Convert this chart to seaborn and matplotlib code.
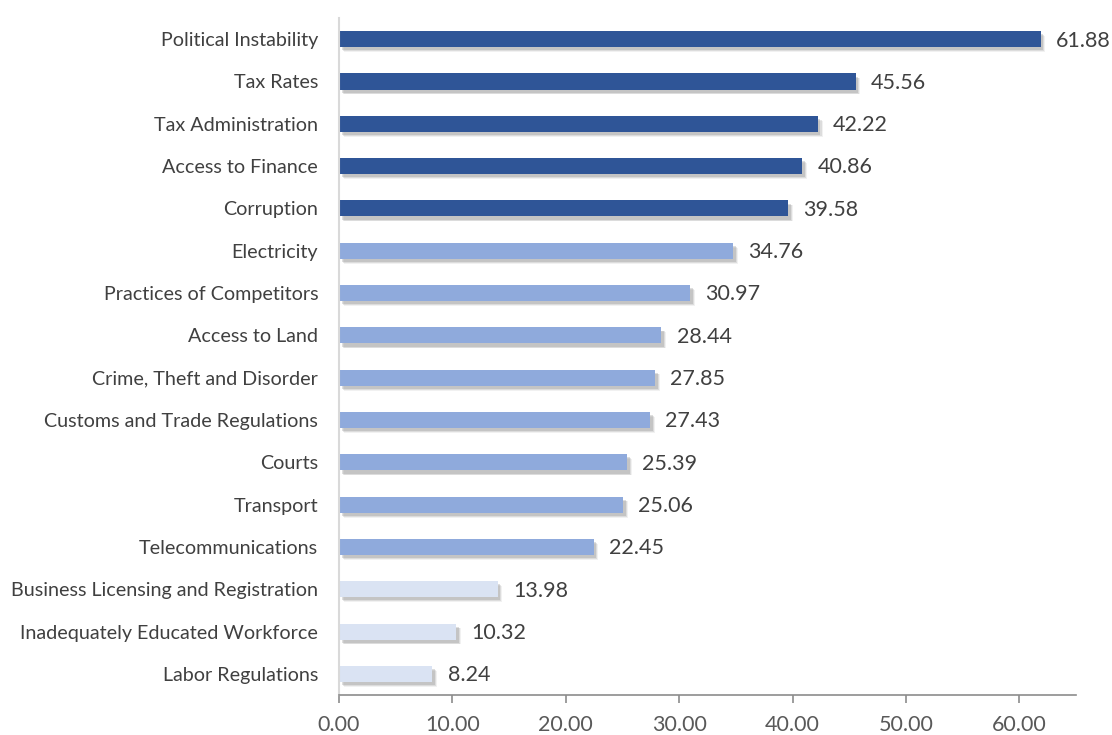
import matplotlib
matplotlib.use("Agg")
import matplotlib.pyplot as plt
import matplotlib.patheffects as pe
import seaborn as sns
import pandas as pd

categories = [
    "Political Instability", "Tax Rates", "Tax Administration", "Access to Finance",
    "Corruption", "Electricity", "Practices of Competitors", "Access to Land",
    "Crime, Theft and Disorder", "Customs and Trade Regulations", "Courts",
    "Transport", "Telecommunications", "Business Licensing and Registration",
    "Inadequately Educated Workforce", "Labor Regulations",
]
values = [61.88, 45.56, 42.22, 40.86, 39.58, 34.76, 30.97, 28.44,
          27.85, 27.43, 25.39, 25.06, 22.45, 13.98, 10.32, 8.24]
tiers = ["high"] * 5 + ["mid"] * 8 + ["low"] * 3
tier_colors = {"high": "#2F5597", "mid": "#8FAADC", "low": "#DAE3F3"}
x_ticks = [0, 10, 20, 30, 40, 50, 60]

df = pd.DataFrame({"category": categories, "value": values, "tier": tiers})

sns.set_theme(style="white")
plt.rcParams["font.family"] = ["Lato", "DejaVu Sans"]

fig = plt.figure(figsize=(11.12, 7.35), dpi=100)
ax = fig.add_axes([0.3049, 0.0544, 0.6627, 0.9211])

sns.barplot(data=df, x="value", y="category", hue="tier", palette=tier_colors,
            dodge=False, width=0.38, legend=False, ax=ax, saturation=1)

# soft drop shadow built from a few stacked translucent layers
shadow = [
    pe.SimplePatchShadow(offset=(3.5, -3.5), shadow_rgbFace="#8c8c8c", alpha=0.12),
    pe.SimplePatchShadow(offset=(2.8, -3.0), shadow_rgbFace="#7f7f7f", alpha=0.18),
    pe.SimplePatchShadow(offset=(2.0, -2.3), shadow_rgbFace="#7f7f7f", alpha=0.25),
    pe.Normal(),
]
for bar in ax.patches:
    bar.set_path_effects(shadow)
    bar.set_linewidth(0)

for i, v in enumerate(values):
    ax.annotate(f"{v:.2f}", xy=(v, i), xytext=(11, -1), textcoords="offset points",
                va="center", ha="left", fontsize=15.5, color="#404040")

ax.set_xlim(0, 65)
ax.set_ylim(len(categories) - 0.5, -0.5)
ax.set_xticks(x_ticks)
ax.set_xticklabels([f"{t:.2f}" for t in x_ticks])
ax.set_xlabel("")
ax.set_ylabel("")

for side in ["top", "right"]:
    ax.spines[side].set_visible(False)
ax.spines["left"].set_color("#d9d9d9")
ax.spines["left"].set_linewidth(1.5)
ax.spines["bottom"].set_color("#8c8c8c")
ax.spines["bottom"].set_linewidth(1.2)

ax.tick_params(axis="x", which="both", bottom=True, length=6, width=1.2,
               color="#8c8c8c", labelsize=15.5, labelcolor="#595959", pad=8.5)
ax.tick_params(axis="y", left=False, labelsize=14.2, labelcolor="#404040", pad=9)

fig.savefig("out.png", dpi=100)
